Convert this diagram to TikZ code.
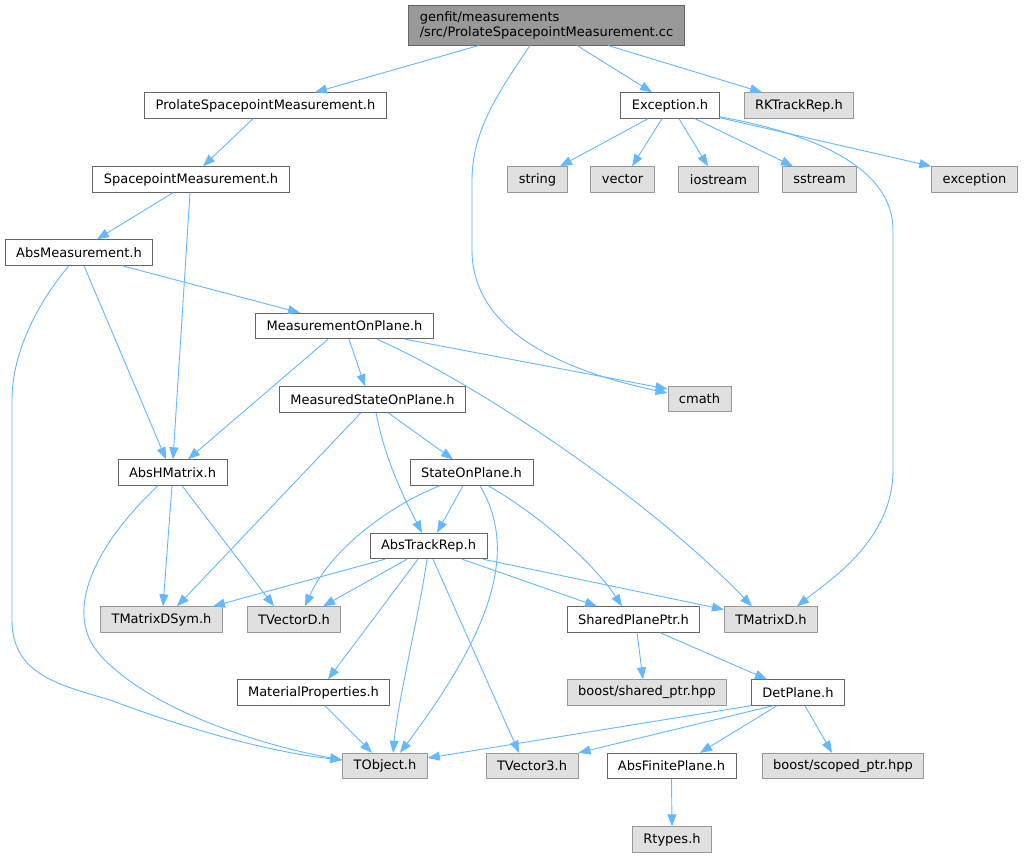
\documentclass[tikz,border=0pt]{standalone}
\usepackage{fontspec}
\setmainfont{DejaVu Sans}
\usetikzlibrary{arrows.meta}
\definecolor{depblue}{HTML}{63B8FF}
\definecolor{sysfill}{HTML}{E0E0E0}
\definecolor{sysline}{HTML}{999999}
\definecolor{hdrline}{HTML}{666666}
\tikzset{
    hdr/.style={rectangle,draw=hdrline,fill=white,line width=0.9pt, minimum height=25.5pt, inner xsep=11pt, inner ysep=0pt, font=\fontsize{13}{15}\selectfont},
    sys/.style={hdr,draw=sysline,fill=sysfill},
    src/.style={hdr,draw=hdrline,fill=sysline},
    dep/.style={draw=depblue,line width=0.9pt,-{Triangle[length=12pt,width=9pt]}}
}
\begin{document}
\begin{tikzpicture}[x=1pt,y=-1pt]
    \useasboundingbox[fill=white] (0,0) rectangle (1025,857);
    \node[src,align=left,minimum width=275pt,minimum height=40pt] (main) at (546.5,25) {genfit/measurements\\/src/ProlateSpacepointMeasurement.cc};
    \node[hdr] (prolate) at (265.5,105.5) {ProlateSpacepointMeasurement.h};
    \node[hdr] (spacepoint) at (191,179.5) {SpacepointMeasurement.h};
    \node[hdr] (absmeas) at (79,252.5) {AbsMeasurement.h};
    \node[hdr] (exception) at (670,105.5) {Exception.h};
    \node[sys] (rktrackrep) at (799,105.5) {RKTrackRep.h};
    \node[sys] (string) at (537.5,179.5) {string};
    \node[sys] (vector) at (622.5,179.5) {vector};
    \node[sys] (iostream) at (718.5,179.5) {iostream};
    \node[sys] (sstream) at (819.5,179.5) {sstream};
    \node[sys] (stdexception) at (974.5,179.5) {exception};
    \node[hdr] (measonplane) at (344.5,326) {MeasurementOnPlane.h};
    \node[hdr] (measstate) at (372.5,399.5) {MeasuredStateOnPlane.h};
    \node[sys] (cmath) at (699.5,399) {cmath};
    \node[hdr] (abshmatrix) at (172.5,472.5) {AbsHMatrix.h};
    \node[hdr] (stateonplane) at (471.5,472.5) {StateOnPlane.h};
    \node[hdr] (abstrackrep) at (428.5,546) {AbsTrackRep.h};
    \node[sys] (tmatrixdsym) at (161.5,619.5) {TMatrixDSym.h};
    \node[sys] (tvectord) at (294,619.5) {TVectorD.h};
    \node[hdr] (sharedplaneptr) at (633.5,619.5) {SharedPlanePtr.h};
    \node[sys] (tmatrixd) at (771,619.5) {TMatrixD.h};
    \node[hdr] (matprop) at (313.5,692.5) {MaterialProperties.h};
    \node[sys] (boostshared) at (647,692.5) {boost/shared\_ptr.hpp};
    \node[hdr] (detplane) at (798,692.5) {DetPlane.h};
    \node[sys] (tobject) at (385,766) {TObject.h};
    \node[sys] (tvector3) at (532,766) {TVector3.h};
    \node[hdr] (absfinite) at (671.5,766) {AbsFinitePlane.h};
    \node[sys] (boostscoped) at (843,766) {boost/scoped\_ptr.hpp};
    \node[sys] (rtypes) at (672,839.5) {Rtypes.h};

    \draw[dep] ([xshift=-67.5]main.south) -- ([xshift=49.5]prolate.north);
    \draw[dep] ([xshift=-16.5]main.south) .. controls (500,90) and (472,130) .. (472,180) -- (472,250) .. controls (472,330) and (560,370) .. ([yshift=6]cmath.west);
    \draw[dep] ([xshift=30.5]main.south) -- ([xshift=-18]exception.north);
    \draw[dep] ([xshift=61.5]main.south) -- ([xshift=-37]rktrackrep.north);
    \draw[dep] ([xshift=-12.5]prolate.south) -- ([xshift=12]spacepoint.north);
    \draw[dep] ([xshift=-18]spacepoint.south) -- ([xshift=18]absmeas.north);
    \draw[dep] ([xshift=-1]spacepoint.south) -- ([xshift=0.5]abshmatrix.north);
    \draw[dep] ([xshift=5]absmeas.south) -- ([xshift=-6.5]abshmatrix.north);
    \draw[dep] ([xshift=43]absmeas.south) -- ([xshift=-44.5]measonplane.north);
    \draw[dep] ([xshift=-10]absmeas.south) .. controls (40,300) and (12,350) .. (12,400) -- (12,620) .. controls (12,675) and (60,685) .. (110,700) .. controls (190,730) and (270,752) .. ([yshift=6]tobject.west);
    \draw[dep] ([xshift=-22]exception.south) -- ([xshift=22.5]string.north);
    \draw[dep] ([xshift=-8]exception.south) -- ([xshift=9.5]vector.north);
    \draw[dep] ([xshift=9]exception.south) -- ([xshift=-10.5]iostream.north);
    \draw[dep] ([xshift=25]exception.south) -- ([xshift=-26.5]sstream.north);
    \draw[dep] ([yshift=1]exception.south east) -- (stdexception.north west);
    \draw[dep] ([yshift=2]exception.south east) .. controls (820,135) and (893,170) .. (893,230) -- (893,470) .. controls (893,540) and (830,580) .. ([xshift=26]tmatrixd.north);
    \draw[dep] ([xshift=-16.5]measonplane.south) -- ([xshift=15.5]abshmatrix.north);
    \draw[dep] ([xshift=4.5]measonplane.south) -- ([xshift=-7.5]measstate.north);
    \draw[dep] ([xshift=60.5]measonplane.south) -- ([yshift=10]cmath.west);
    \draw[dep] ([xshift=32.5]measonplane.south) .. controls (480,385) and (650,500) .. ([xshift=-19]tmatrixd.north);
    \draw[dep] ([xshift=-11.5]measstate.south) -- ([xshift=15.5]tmatrixdsym.north);
    \draw[dep] ([xshift=3.5]measstate.south) .. controls (385,460) and (405,500) .. ([xshift=-6.5]abstrackrep.north);
    \draw[dep] ([xshift=15.5]measstate.south) -- ([xshift=-18.5]stateonplane.north);
    \draw[dep] ([xshift=-0.5]abshmatrix.south) -- ([xshift=1.5]tmatrixdsym.north);
    \draw[dep] ([xshift=9.5]abshmatrix.south) -- ([xshift=-20]tvectord.north);
    \draw[dep] ([xshift=-14.5]abshmatrix.south) .. controls (100,540) and (60,610) .. (100,655) .. controls (150,710) and (260,745) .. ([yshift=6]tobject.west);
    \draw[dep] ([xshift=-8.5]stateonplane.south) -- ([xshift=8.5]abstrackrep.north);
    \draw[dep] ([xshift=-31.5]stateonplane.south) .. controls (390,505) and (330,550) .. ([xshift=11]tvectord.north);
    \draw[dep] ([xshift=8.5]stateonplane.south) .. controls (515,545) and (500,620) .. ([xshift=15]tobject.north);
    \draw[dep] ([xshift=16.5]stateonplane.south) .. controls (540,515) and (595,565) .. ([xshift=-11.5]sharedplaneptr.north);
    \draw[dep] ([xshift=-43.5]abstrackrep.south) -- ([xshift=51.5]tmatrixdsym.north);
    \draw[dep] ([xshift=-21.5]abstrackrep.south) -- ([xshift=29]tvectord.north);
    \draw[dep] ([xshift=-10.5]abstrackrep.south) -- ([xshift=14.5]matprop.north);
    \draw[dep] ([xshift=-1.5]abstrackrep.south) .. controls (420,610) and (398,700) .. ([xshift=8]tobject.north);
    \draw[dep] ([xshift=4.5]abstrackrep.south) -- ([xshift=-13]tvector3.north);
    \draw[dep] ([xshift=33.5]abstrackrep.south) -- ([xshift=-36.5]sharedplaneptr.north);
    \draw[dep] ([xshift=54.5]abstrackrep.south) -- ([yshift=10]tmatrixd.west);
    \draw[dep] ([xshift=11.5]matprop.south) -- ([xshift=-13]tobject.north);
    \draw[dep] ([xshift=3.5]sharedplaneptr.south) -- ([xshift=-4]boostshared.north);
    \draw[dep] ([xshift=26.5]sharedplaneptr.south) -- ([xshift=-31]detplane.north);
    \draw[dep] (detplane.south west) -- ([yshift=8]tobject.east);
    \draw[dep] ([xshift=-25]detplane.south) -- (tvector3.north east);
    \draw[dep] ([xshift=-21]detplane.south) -- ([xshift=28.5]absfinite.north);
    \draw[dep] ([xshift=7]detplane.south) -- ([xshift=-11]boostscoped.north);
    \draw[dep] (absfinite.south) -- (rtypes.north);
\end{tikzpicture}
\end{document}
